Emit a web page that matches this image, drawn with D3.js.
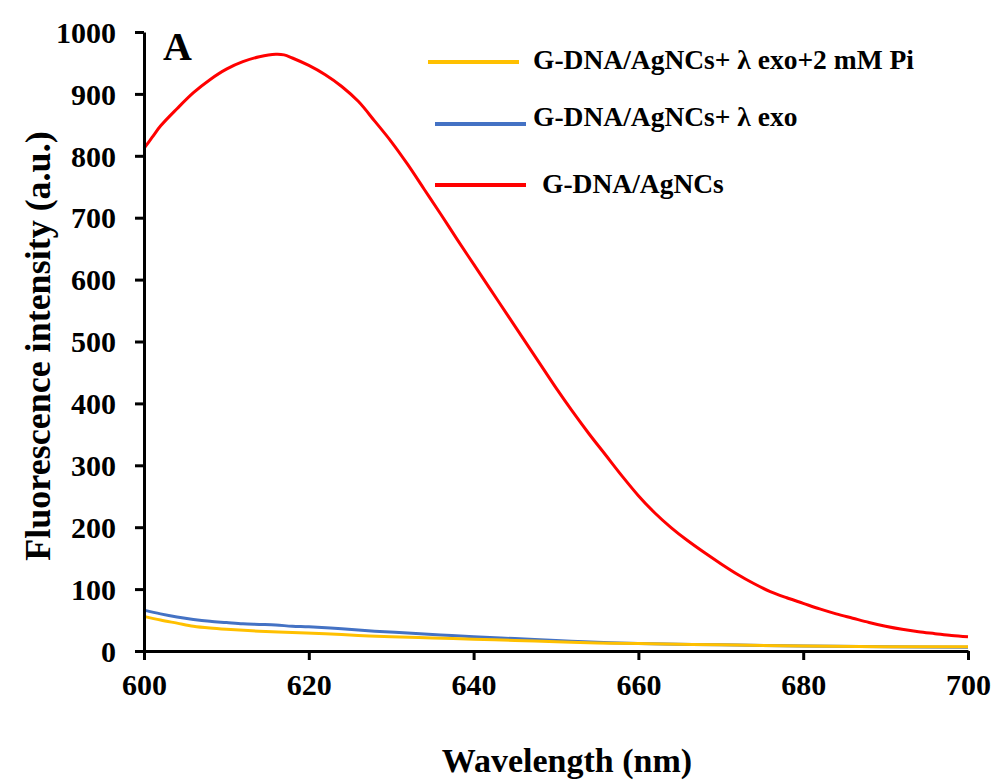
<!DOCTYPE html>
<html>
<head>
<meta charset="utf-8">
<script src="https://cdn.jsdelivr.net/npm/d3@7"></script>
<style>
  body { margin: 0; background: #fff; }
  svg text { font-family: "Liberation Serif", "Times New Roman", serif; font-weight: bold; fill: #000; }
</style>
</head>
<body>
<svg id="chart" width="997" height="783"></svg>
<script>
// values
const redWl = [600, 601, 602, 604, 606, 608, 610, 612, 614, 616, 617, 618, 620, 622, 624, 626, 628, 630, 632, 634, 636, 638, 640, 642, 644, 646, 648, 650, 652, 654, 656, 658, 660, 662, 664, 666, 668, 670, 672, 674, 676, 678, 680, 682, 684, 686, 688, 690, 692, 694, 696, 698, 700];
const redVal = [812, 830, 848, 876, 902, 923, 940, 952, 960, 964, 963, 958, 946, 931, 912, 888, 856, 823, 786, 746, 706, 665, 625, 585, 545, 505, 465, 425, 387, 351, 317, 283, 251, 223, 199, 178, 159, 141, 124, 109, 96, 86, 77, 68, 60, 53, 46, 40, 35, 31, 28, 25, 23];

const blueWl = [600, 602, 604, 606, 608, 610, 612, 614, 616, 618, 620, 624, 628, 632, 636, 640, 645, 650, 655, 660, 670, 680, 690, 700];
const blueVal = [66, 60, 55, 51, 48, 46, 44, 43, 42, 40, 39, 36, 32, 29, 26, 23, 20, 17, 14, 12, 10, 8, 7, 6];

const yellowWl = [600, 602, 604, 606, 608, 610, 614, 618, 622, 626, 630, 635, 640, 645, 650, 655, 660, 670, 680, 690, 700];
const yellowVal = [56, 50, 45, 40, 37, 35, 32, 30, 28, 25, 23, 21, 19, 17, 15, 13, 12, 10, 8, 7, 7];

const xTicks = [600, 620, 640, 660, 680, 700];
const yTicks = [0, 100, 200, 300, 400, 500, 600, 700, 800, 900, 1000];

const seriesNames = ['G-DNA/AgNCs+ \u03bb exo+2 mM Pi', 'G-DNA/AgNCs+ \u03bb exo', 'G-DNA/AgNCs'];
const seriesColors = ['#ffc000', '#4472c4', '#ff0000'];

const svg = d3.select('#chart');
const x = d3.scaleLinear().domain([600, 700]).range([144, 968]);
const y = d3.scaleLinear().domain([0, 1000]).range([651, 32]);

const line = d3.line()
  .curve(d3.curveCatmullRom)
  .x(d => x(d[0]))
  .y(d => y(d[1]));

const series = [
  { data: d3.zip(redWl, redVal), color: seriesColors[2] },
  { data: d3.zip(blueWl, blueVal), color: seriesColors[1] },
  { data: d3.zip(yellowWl, yellowVal), color: seriesColors[0] }
];

svg.selectAll('.series').data(series).join('path')
  .attr('class', 'series')
  .attr('d', d => line(d.data))
  .attr('fill', 'none')
  .attr('stroke', d => d.color)
  .attr('stroke-width', 3);

// axes
const xAxis = svg.append('g')
  .attr('transform', `translate(0, ${y(0)})`)
  .call(d3.axisBottom(x).tickValues(xTicks).tickSize(9).tickSizeOuter(0).tickPadding(14).tickFormat(d3.format('d')));

const yAxis = svg.append('g')
  .attr('transform', `translate(${x(600)}, 0)`)
  .call(d3.axisLeft(y).tickValues(yTicks).tickSize(9).tickSizeOuter(0).tickPadding(19).tickFormat(d3.format('d')));

[xAxis, yAxis].forEach(ax => {
  ax.select('.domain').attr('stroke', '#000').attr('stroke-width', 3);
  ax.selectAll('.tick line').attr('stroke', '#000').attr('stroke-width', 3);
  ax.selectAll('.tick text')
    .attr('font-size', 30)
    .attr('font-family', '"Liberation Serif", "Times New Roman", serif')
    .attr('font-weight', 'bold')
    .attr('fill', '#000');
});
yAxis.selectAll('.tick text').attr('dy', '0.34em');

// axis titles
svg.append('text')
  .attr('x', 567)
  .attr('y', 772)
  .attr('text-anchor', 'middle')
  .attr('font-size', 34)
  .text('Wavelength (nm)');

svg.append('text')
  .attr('transform', `translate(50, 346) rotate(-90)`)
  .attr('text-anchor', 'middle')
  .attr('font-size', 36)
  .text('Fluorescence intensity (a.u.)');

svg.append('text')
  .attr('x', 163)
  .attr('y', 60)
  .attr('font-size', 40)
  .text('A');

// legend
const legendItems = [
  { name: seriesNames[0], color: seriesColors[0], x1: 428, x2: 519, ly: 62, tx: 533, ty: 69 },
  { name: seriesNames[1], color: seriesColors[1], x1: 435, x2: 526, ly: 124, tx: 533, ty: 126 },
  { name: seriesNames[2], color: seriesColors[2], x1: 435, x2: 526, ly: 185, tx: 542, ty: 193 }
];

const legend = svg.append('g').attr('class', 'legend');
legend.selectAll('line').data(legendItems).join('line')
  .attr('x1', d => d.x1)
  .attr('x2', d => d.x2)
  .attr('y1', d => d.ly)
  .attr('y2', d => d.ly)
  .attr('stroke', d => d.color)
  .attr('stroke-width', 4);

legend.selectAll('text').data(legendItems).join('text')
  .attr('x', d => d.tx)
  .attr('y', d => d.ty)
  .attr('font-size', 27.5)
  .text(d => d.name);
</script>
</body>
</html>
